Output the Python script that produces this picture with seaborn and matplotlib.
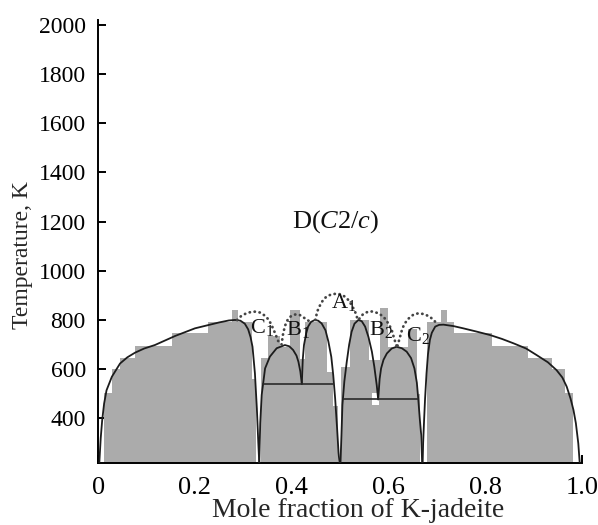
import numpy as np
import matplotlib
matplotlib.use("Agg")
import matplotlib.pyplot as plt
import seaborn as sns

# ---------------- data ----------------
x_ticks = [0, 0.2, 0.4, 0.6, 0.8, 1.0]
x_tick_labels = ["0", "0.2", "0.4", "0.6", "0.8", "1.0"]
y_ticks = [400, 600, 800, 1000, 1200, 1400, 1600, 1800, 2000]

# gray stepped histogram (simulation), bin edges and heights per block
left_edges = [0.012, 0.028, 0.045, 0.076, 0.152, 0.227, 0.277, 0.289, 0.318, 0.327]
left_heights = [502, 600, 645, 694, 747, 792, 841, 792, 560]
midl_edges = [0.337, 0.351, 0.375, 0.397, 0.417, 0.428, 0.473, 0.486, 0.495]
midl_heights = [645, 735, 690, 841, 640, 792, 588, 450]
midr_edges = [0.503, 0.521, 0.559, 0.583, 0.600, 0.641, 0.659, 0.665]
midr_heights = [608, 800, 637, 849, 690, 763, 500]
right_edges = [0.680, 0.709, 0.722, 0.735, 0.814, 0.889, 0.938, 0.966, 0.982]
right_heights = [792, 841, 792, 747, 694, 645, 600, 502]
notch_x = [0.566, 0.581]
notch_t = [453, 502]

# solid phase-boundary curves
left_x = [0.002, 0.005, 0.008, 0.012, 0.017, 0.028, 0.045, 0.06, 0.076, 0.095, 0.117,
          0.159, 0.2, 0.25, 0.27, 0.283, 0.294, 0.303, 0.31, 0.315, 0.319, 0.324,
          0.328, 0.331, 0.333]
left_t = [217, 320, 392, 460, 514, 569, 623, 648, 667, 684, 698,
          735, 766, 790, 798, 800, 797, 785, 762, 730, 691, 583,
          440, 300, 217]
dome1_x = [0.333, 0.335, 0.338, 0.345, 0.355, 0.369, 0.386, 0.395, 0.403, 0.41,
           0.414, 0.418, 0.421]
dome1_t = [217, 380, 495, 603, 651, 685, 698, 693, 678, 655, 630, 590, 540]
dome2_x = [0.421, 0.423, 0.4255, 0.43, 0.434, 0.44, 0.448, 0.455, 0.462, 0.47,
           0.476, 0.482, 0.486, 0.49, 0.494, 0.497, 0.499]
dome2_t = [540, 640, 698, 745, 773, 792, 800, 797, 786, 758, 712, 650, 576, 480,
           359, 260, 217]
domeA_x = [0.501, 0.503, 0.505, 0.509, 0.514, 0.519, 0.524, 0.53, 0.538, 0.545,
           0.552, 0.559, 0.566, 0.571, 0.576, 0.579]
domeA_t = [217, 330, 454, 550, 630, 700, 752, 785, 800, 795, 773, 730, 671, 610,
           535, 477]
domeB_x = [0.579, 0.582, 0.585, 0.59, 0.597, 0.607, 0.617, 0.628, 0.638, 0.647,
           0.654, 0.659, 0.662, 0.665, 0.668, 0.67]
domeB_t = [477, 560, 603, 638, 664, 684, 691, 685, 671, 645, 603, 545, 477, 400,
           332, 217]
right_x = [0.671, 0.672, 0.674, 0.676, 0.679, 0.682, 0.686, 0.69, 0.697, 0.705,
           0.714, 0.735, 0.755, 0.78, 0.81, 0.835, 0.859, 0.885, 0.907, 0.93,
           0.948, 0.96, 0.969, 0.977, 0.983, 0.988, 0.993, 0.996]
right_t = [217, 300, 393, 480, 583, 660, 719, 748, 773, 780,
           781, 775, 766, 754, 739, 723, 705, 684, 657, 628,
           596, 566, 529, 480, 434, 380, 298, 217]
tie1_x = [0.34, 0.485]
tie1_t = [540, 540]
tie2_x = [0.507, 0.662]
tie2_t = [477, 477]

# dotted metastable arcs
C1_x = [0.287, 0.295, 0.305, 0.315, 0.325, 0.335, 0.345, 0.353, 0.36, 0.366, 0.372, 0.378]
C1_t = [800, 815, 826, 832, 834, 830, 817, 800, 772, 745, 715, 700]
B1_x = [0.379, 0.382, 0.386, 0.391, 0.397, 0.404, 0.41, 0.417, 0.424, 0.431, 0.438]
B1_t = [700, 740, 775, 798, 813, 821, 823, 820, 811, 802, 793]
A1_x = [0.449, 0.453, 0.459, 0.465, 0.472, 0.482, 0.493, 0.502, 0.51, 0.518, 0.524,
        0.531, 0.537]
A1_t = [800, 835, 861, 881, 895, 904, 907, 904, 895, 880, 861, 835, 800]
B2_x = [0.54, 0.547, 0.555, 0.562, 0.569, 0.578, 0.585, 0.59, 0.597, 0.603, 0.607,
        0.612, 0.617]
B2_t = [805, 822, 831, 835, 834, 828, 820, 813, 795, 775, 759, 725, 695]
C2_x = [0.619, 0.624, 0.629, 0.634, 0.642, 0.652, 0.662, 0.674, 0.686, 0.695, 0.702]
C2_t = [695, 730, 765, 786, 806, 822, 827, 824, 813, 797, 782]

phase_labels = ["C$_1$", "B$_1$", "A$_1$", "B$_2$", "C$_2$"]
phase_label_x = [0.339, 0.413, 0.508, 0.585, 0.662]
phase_label_t = [747, 739, 847, 737, 716]
d_label = "D($C$2/$c$)"
d_label_xy = (0.492, 1174)

# ---------------- style ----------------
sns.set_style("ticks")
plt.rcParams["font.family"] = ["Liberation Serif", "DejaVu Serif"]
plt.rcParams["mathtext.fontset"] = "custom"
plt.rcParams["mathtext.rm"] = "Liberation Serif"
plt.rcParams["mathtext.it"] = "Liberation Serif:italic"

fig = plt.figure(figsize=(5.98, 5.25), dpi=100)
ax = fig.add_axes([0.1644, 0.1175, 0.8083, 0.8444])

GRAY = "#ababab"
for edges, heights in [(left_edges, left_heights), (midl_edges, midl_heights),
                       (midr_edges, midr_heights), (right_edges, right_heights)]:
    e = np.array(edges)
    ax.bar(e[:-1], heights, width=np.diff(e), align="edge", color=GRAY,
           edgecolor="none", linewidth=0, zorder=1)
ax.bar(notch_x[0], notch_t[1] - notch_t[0], width=notch_x[1] - notch_x[0],
       bottom=notch_t[0], align="edge", color="white", edgecolor="none", zorder=1.5)

LINE = "#1c1c1c"
for xs, ts in [(left_x, left_t), (dome1_x, dome1_t), (dome2_x, dome2_t),
               (domeA_x, domeA_t), (domeB_x, domeB_t), (right_x, right_t)]:
    sns.lineplot(x=xs, y=ts, sort=False, estimator=None, color=LINE, lw=1.3,
                 ax=ax, zorder=3)
for xs, ts in [(tie1_x, tie1_t), (tie2_x, tie2_t)]:
    sns.lineplot(x=xs, y=ts, sort=False, estimator=None, color="#2a2a2a", lw=1.2,
                 ax=ax, zorder=3)

for xs, ts in [(C1_x, C1_t), (B1_x, B1_t), (A1_x, A1_t), (B2_x, B2_t), (C2_x, C2_t)]:
    lines_before = len(ax.lines)
    sns.lineplot(x=xs, y=ts, sort=False, estimator=None, color="#444444", lw=2.0,
                 ax=ax, zorder=3)
    for ln in ax.lines[lines_before:]:
        ln.set_linestyle((0, (0.1, 1.7)))
        ln.set_dash_capstyle("round")

for lab, lx, lt in zip(phase_labels, phase_label_x, phase_label_t):
    ax.text(lx, lt, lab, ha="center", va="baseline", fontsize=16, color="#111111",
            zorder=4)
ax.text(d_label_xy[0], d_label_xy[1], d_label, ha="center", va="baseline",
        fontsize=19, color="#111111", zorder=4)

ax.set_xlim(0, 1.0)
ax.set_ylim(217, 2020)
ax.set_xticks(x_ticks)
ax.set_xticklabels(x_tick_labels)
ax.set_yticks(y_ticks)
for s in ["top", "right"]:
    ax.spines[s].set_visible(False)
for s in ["left", "bottom"]:
    ax.spines[s].set_linewidth(1.4)
    ax.spines[s].set_color("black")
ax.tick_params(axis="both", direction="in", length=6, width=1.4, colors="black")
ax.tick_params(axis="x", pad=10, labelsize=19)
ax.tick_params(axis="y", pad=9, labelsize=17)
ax.set_xlabel("Mole fraction of K-jadeite", fontsize=20)
ax.xaxis.set_label_coords(0.537, -0.078)
ax.set_ylabel("Temperature, K", fontsize=17)
ax.yaxis.set_label_coords(-0.135, 0.47)
ax.grid(False)

fig.savefig("out.png", dpi=100)
